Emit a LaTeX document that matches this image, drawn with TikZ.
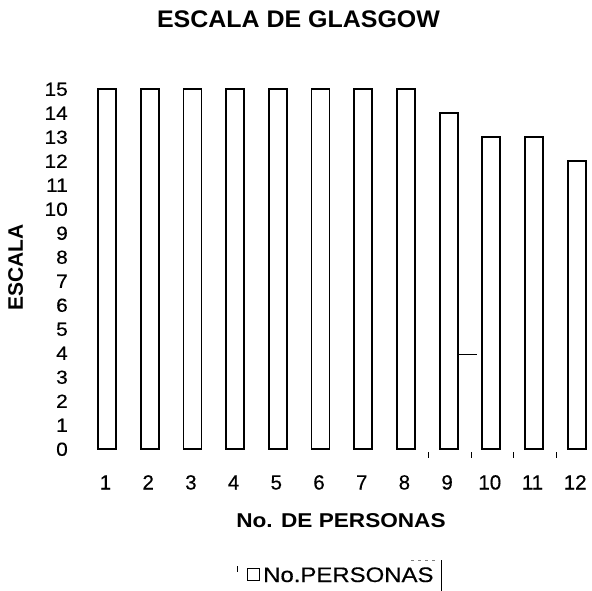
\documentclass[tikz,border=0pt]{standalone}
\usepackage{fontspec}
\setmainfont{Liberation Sans}
\newfontfamily\heavyfont[FakeBold=0.35]{Liberation Sans}
\begin{document}
\begin{tikzpicture}[x=1pt,y=-1pt,
  bar/.style={draw=black,line width=1.8pt,fill=white},
  ylab/.style={anchor=base east,inner sep=0pt,font=\fontsize{19}{19}\heavyfont},
  xlab/.style={anchor=base,inner sep=0pt,font=\fontsize{20.5}{20.5}\heavyfont},
  noise/.style={black,line width=0.9pt}]
\useasboundingbox (0,0) rectangle (592,591);
\fill[white] (0,0) rectangle (592,591);
% title
\node[anchor=base,inner sep=0pt,font=\fontsize{24}{24}\selectfont\bfseries] (title) at (298.5,28) {\scalebox{1.04}[1]{ESCALA DE GLASGOW}};
% y axis title
\node[anchor=base,inner sep=0pt,rotate=90,font=\fontsize{21}{21}\selectfont\bfseries] (ytitle) at (23,267.5) {ESCALA};
% y labels
\foreach \v in {0,...,15}{
  \node[ylab] (y\v) at (68,{449-24*\v+6.8}) {\scalebox{1.1}[1]{\v}};
}
% bars
\foreach \i/\v in {1/15,2/15,3/15,4/15,5/15,6/15,7/15,8/15,9/14,10/13,11/13,12/12}{
  \pgfmathsetmacro{\cx}{107+(\i-1)*42.7}
  \draw[bar] ({\cx-9},449) rectangle ({\cx+9},{449-24*\v});
  \node[xlab] (x\i) at ({\cx-1.5},489.5) {\i};
}
% scan marks
\draw[noise] (458,354) -- (477,354);
\foreach \xx in {428,471,513,556}{
  \draw[noise] (\xx,452) -- (\xx,458);
}
% x axis title
\node[anchor=base,inner sep=0pt,font=\fontsize{20}{20}\selectfont\bfseries] (xtitle) at (341,527) {\scalebox{1.13}[1]{No. DE PERSONAS}};
% legend
\draw[black,line width=1.6pt] (247.5,568.5) rectangle (259.5,580.5);
\node[anchor=base west,inner sep=0pt,font=\fontsize{21}{21}\heavyfont] (leg) at (263,582) {\scalebox{1.14}[1]{No.PERSONAS}};
\draw[black,line width=1pt] (441,560) -- (441,591);
\draw[black,line width=1pt] (237,566) -- (237,572);
\draw[gray,line width=0.8pt,dash pattern=on 3pt off 4pt] (411,560) -- (435,560);
\end{tikzpicture}
\end{document}
